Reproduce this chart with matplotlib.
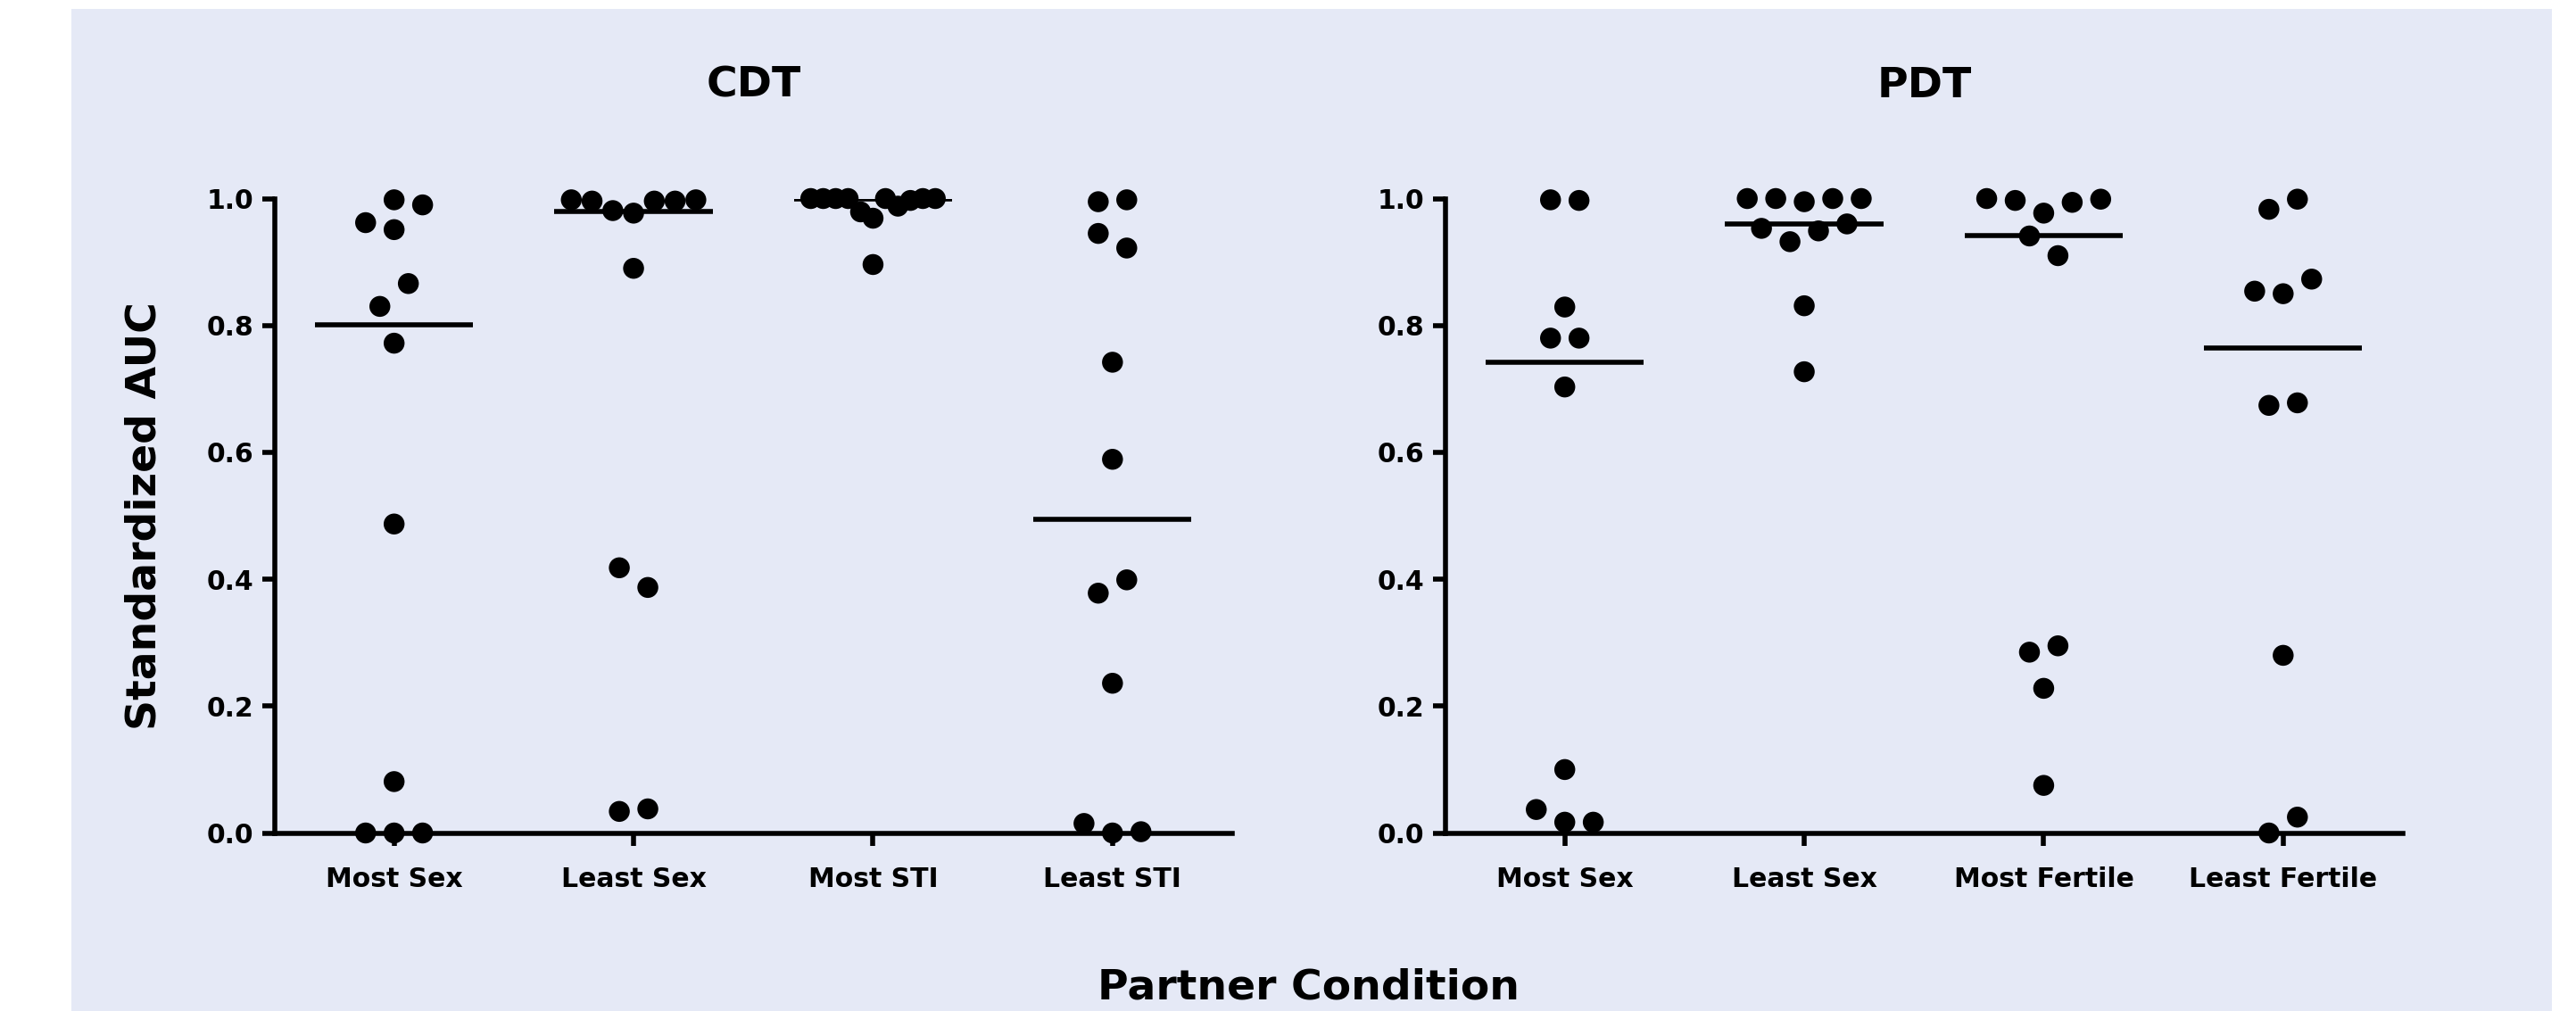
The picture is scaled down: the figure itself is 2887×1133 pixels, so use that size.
import numpy as np
import matplotlib.pyplot as plt
from matplotlib.patches import Rectangle

plt.rcParams['font.family'] = ['DejaVu Sans']
plt.rcParams['font.weight'] = 'bold'

# standardized AUC per participant, listed row by row (left to right)
cdt_labels = ['Most Sex', 'Least Sex', 'Most STI', 'Least STI']
cdt_most_sex = [0.962, 0.998, 0.990, 0.951, 0.830, 0.866, 0.772, 0.487, 0.081, 0.0, 0.0, 0.0]
cdt_least_sex = [0.998, 0.996, 0.981, 0.977, 0.996, 0.996, 0.998, 0.890, 0.418, 0.387, 0.034, 0.038]
cdt_most_sti = [1.0, 1.0, 1.0, 1.0, 0.979, 0.969, 1.0, 0.988, 0.997, 1.0, 1.0, 0.896]
cdt_least_sti = [0.995, 0.998, 0.945, 0.922, 0.742, 0.589, 0.378, 0.399, 0.236, 0.015, 0.0, 0.002]

pdt_labels = ['Most Sex', 'Least Sex', 'Most Fertile', 'Least Fertile']
pdt_most_sex = [0.998, 0.997, 0.829, 0.780, 0.780, 0.703, 0.100, 0.037, 0.017, 0.017]
pdt_least_sex = [1.0, 1.0, 0.995, 1.0, 1.0, 0.953, 0.932, 0.949, 0.960, 0.831, 0.727]
pdt_most_fertile = [1.0, 0.997, 0.977, 0.994, 0.999, 0.941, 0.910, 0.285, 0.295, 0.228, 0.075]
pdt_least_fertile = [0.983, 0.999, 0.854, 0.850, 0.873, 0.674, 0.678, 0.280, 0.0, 0.025]

yticks = [0.0, 0.2, 0.4, 0.6, 0.8, 1.0]


def swarm(vals, row_h=0.038, step=0.119, max_span=0.52):
    # group close values into rows, spread each row around the centre
    vals = np.asarray(vals)
    rows = []
    for i in np.argsort(-vals, kind='stable'):
        if rows and vals[rows[-1][0]] - vals[i] < row_h:
            rows[-1].append(i)
        else:
            rows.append([i])
    offs = np.zeros(len(vals))
    for row in rows:
        row = sorted(row)
        n = len(row)
        s = step if (n - 1) * step <= max_span else max_span / (n - 1)
        for k, i in enumerate(row):
            offs[i] = (k - (n - 1) / 2) * s
    return offs


fig = plt.figure(figsize=(28.87, 11.33), dpi=100)
fig.patches.append(Rectangle((80/2887, 0), 2780/2887, 1123/1133, transform=fig.transFigure,
                             facecolor='#e5e9f6', edgecolor='none', zorder=-10))

panels = [('CDT', cdt_labels, [cdt_most_sex, cdt_least_sex, cdt_most_sti, cdt_least_sti], 307.5),
          ('PDT', pdt_labels, [pdt_most_sex, pdt_least_sex, pdt_most_fertile, pdt_least_fertile], 1619.5)]

for title, labels, groups, x0 in panels:
    ax = fig.add_axes([x0/2887, 199.5/1133, 1073.5/2887, 711/1133])
    ax.set_zorder(5)
    ax.patch.set_alpha(0)
    for i, g in enumerate(groups):
        ax.hlines(np.median(g), i - 0.33, i + 0.33, color='black', lw=4, zorder=2)
        ax.scatter(i + swarm(g), g, s=285, color='black', edgecolors='none', zorder=4, clip_on=False)
    ax.set_xlim(-0.5, 3.5)
    ax.set_ylim(0, 1)
    ax.set_xticks(range(4))
    ax.set_xticklabels(labels)
    ax.set_yticks(yticks)
    ax.set_yticklabels(['%.1f' % t for t in yticks])
    for s in ['top', 'right']:
        ax.spines[s].set_visible(False)
    for s in ['left', 'bottom']:
        ax.spines[s].set_linewidth(4)
    ax.tick_params(axis='y', length=10, width=4, labelsize=21.5, pad=7)
    ax.tick_params(axis='x', length=10, width=4, labelsize=21.5, pad=17)
    ax.set_title(title, fontsize=34, fontweight='bold', pad=82)

fig.text(162/2887, 555/1133, 'Standardized AUC', rotation=90, ha='center', va='center',
         fontsize=34, fontweight='bold')
fig.text(1466/2887, 13/1133, 'Partner Condition', ha='center', va='baseline',
         fontsize=34, fontweight='bold')

fig.savefig('out.png', dpi=100, facecolor='white')
